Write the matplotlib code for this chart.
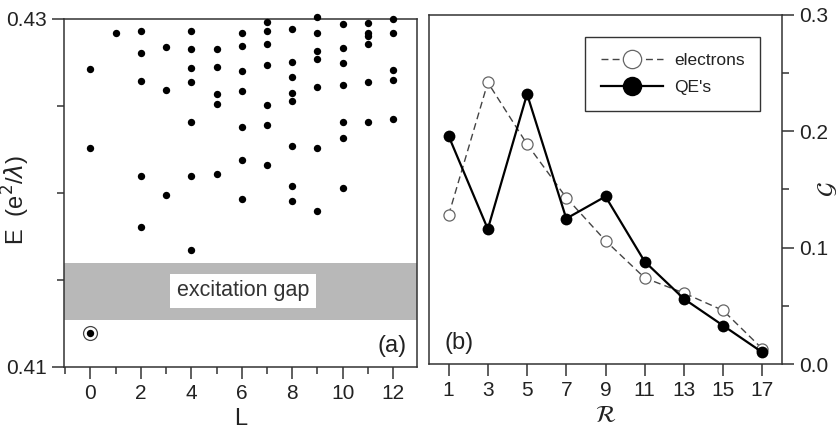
import matplotlib.pyplot as plt
from matplotlib.ticker import MultipleLocator, FixedLocator, FormatStrFormatter
import numpy as np

plt.rcParams['font.family'] = ['Liberation Sans', 'DejaVu Sans']
plt.rcParams['mathtext.fontset'] = 'dejavusans'

# (a) energy spectrum: angular momentum L and energies E (e^2/lambda)
L_levels = [0, 0,
            1,
            2, 2, 2, 2, 2,
            3, 3, 3,
            4, 4, 4, 4, 4, 4, 4,
            5, 5, 5, 5, 5,
            6, 6, 6, 6, 6, 6, 6,
            7, 7, 7, 7, 7, 7, 7,
            8, 8, 8, 8, 8, 8, 8, 8,
            9, 9, 9, 9, 9, 9, 9,
            10, 10, 10, 10, 10, 10, 10,
            11, 11, 11, 11, 11, 11,
            12, 12, 12, 12, 12]
E_levels = [0.42713, 0.42261,
            0.42921,
            0.42931, 0.42803, 0.42646, 0.42100, 0.41806,
            0.42837, 0.42594, 0.41990,
            0.42933, 0.42830, 0.42718, 0.42640, 0.42406, 0.42096, 0.41672,
            0.42826, 0.42722, 0.42569, 0.42513, 0.42107,
            0.42921, 0.42845, 0.42701, 0.42584, 0.42379, 0.42192, 0.41966,
            0.42985, 0.42933, 0.42854, 0.42734, 0.42504, 0.42393, 0.42161,
            0.42944, 0.42753, 0.42667, 0.42577, 0.42527, 0.42268, 0.42040, 0.41954,
            0.43010, 0.42921, 0.42816, 0.42770, 0.42607, 0.42261, 0.41898,
            0.42971, 0.42833, 0.42745, 0.42623, 0.42408, 0.42318, 0.42027,
            0.42975, 0.42918, 0.42905, 0.42856, 0.42638, 0.42406,
            0.42998, 0.42920, 0.42705, 0.42651, 0.42425]

ground_L = 0
ground_E = 0.41195
gap_lo, gap_hi = 0.4127, 0.4160

# (b) pair amplitude vs R
R = [1, 3, 5, 7, 9, 11, 13, 15, 17]
g_electrons = [0.128, 0.242, 0.189, 0.143, 0.106, 0.074, 0.061, 0.046, 0.013]
g_qes = [0.196, 0.116, 0.232, 0.125, 0.144, 0.088, 0.056, 0.033, 0.010]

fig = plt.figure(figsize=(8.39, 4.32), dpi=100)
ax1 = fig.add_axes([64 / 839, 65 / 432, 353 / 839, 348 / 432])
ax2 = fig.add_axes([429 / 839, 68 / 432, 353 / 839, 349 / 432])

txt = '#222222'
for ax in (ax1, ax2):
    for s in ax.spines.values():
        s.set_linewidth(1.1)
        s.set_color('#333333')
    ax.tick_params(which='both', direction='out', colors='#333333',
                   labelcolor=txt, labelsize=15, width=1.1)
    ax.tick_params(which='major', length=8.5)
    ax.tick_params(which='minor', length=5)

# panel (a)
ax1.axhspan(gap_lo, gap_hi, color='#b8b8b8', lw=0, zorder=0)
ax1.text(6.05, 0.41437, 'excitation gap', ha='center', va='center',
         fontsize=15.5, color='#333333',
         bbox=dict(facecolor='white', edgecolor='none', pad=5), zorder=2)
ax1.plot(L_levels, E_levels, 'o', color='black', ms=5.3, mew=0,
         clip_on=False, zorder=3)
ax1.plot([ground_L], [ground_E], 'o', color='black', ms=5.3, mew=0, zorder=3)
ax1.plot([ground_L], [ground_E], 'o', mfc='none', mec='#444444', ms=10,
         mew=0.9, zorder=3)
ax1.set_xlim(-1.05, 12.95)
ax1.set_ylim(0.41, 0.43)
ax1.xaxis.set_major_locator(MultipleLocator(2))
ax1.xaxis.set_minor_locator(MultipleLocator(1))
ax1.yaxis.set_major_locator(FixedLocator([0.41, 0.43]))
ax1.yaxis.set_minor_locator(FixedLocator([0.415, 0.42, 0.425]))
ax1.yaxis.set_major_formatter(FormatStrFormatter('%.2f'))
ax1.set_xlabel('L', fontsize=17, color=txt, labelpad=4)
ax1.set_ylabel(r'E  (e$^2$/$\lambda$)', fontsize=17, color=txt)
ax1.yaxis.set_label_coords(-0.09, 0.48)
ax1.text(0.97, 0.03, '(a)', transform=ax1.transAxes, ha='right',
         va='bottom', fontsize=17, color=txt)

# panel (b)
ax2.plot(R, g_electrons, '--o', color='#444444', lw=1.0, dashes=(5, 3),
         mfc='white', mec='#666666', ms=8, mew=0.9, label='electrons',
         zorder=2)
ax2.plot(R, g_qes, '-o', color='black', lw=1.6, ms=8.5, mew=0,
         label="QE's", zorder=3)
ax2.set_xlim(0, 18)
ax2.set_ylim(0, 0.3)
ax2.xaxis.set_major_locator(FixedLocator(R))
ax2.yaxis.set_major_locator(FixedLocator([0.0, 0.1, 0.2, 0.3]))
ax2.yaxis.set_minor_locator(FixedLocator([0.05, 0.15, 0.25]))
ax2.yaxis.set_major_formatter(FormatStrFormatter('%.1f'))
ax2.yaxis.tick_right()
ax2.yaxis.set_label_position('right')
ax2.set_xlabel(r'$\mathcal{R}$', fontsize=17, color=txt, labelpad=4)
ax2.set_ylabel(r'$\mathcal{G}$', fontsize=17, color=txt)
ax2.yaxis.set_label_coords(1.095, 0.5)
ax2.text(0.045, 0.03, '(b)', transform=ax2.transAxes, ha='left',
         va='bottom', fontsize=17, color=txt)

leg = ax2.legend(loc='upper right', bbox_to_anchor=(0.938, 0.937),
                 borderaxespad=0, fontsize=12.5, handlelength=3.6,
                 markerscale=1.65, fancybox=False, framealpha=1,
                 edgecolor='#333333', borderpad=0.9, labelspacing=0.7,
                 handletextpad=0.6)
leg.get_frame().set_linewidth(1.0)
for t in leg.get_texts():
    t.set_color(txt)

fig.savefig('out.png', dpi=100)
